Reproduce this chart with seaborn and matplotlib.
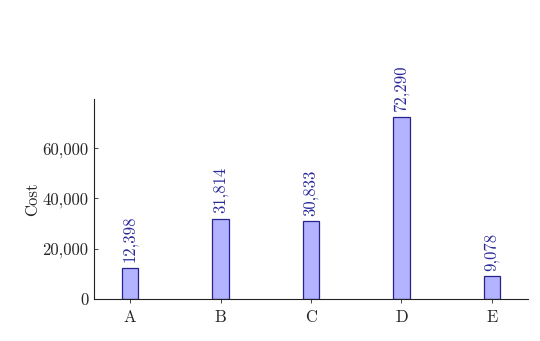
import matplotlib
matplotlib.use("Agg")
import matplotlib.pyplot as plt
import seaborn as sns
import pandas as pd

categories = ["A", "B", "C", "D", "E"]
costs = [12398, 31814, 30833, 72290, 9078]
yticks = [0, 20000, 40000, 60000]
ytick_labels = ["0", "20,000", "40,000", "60,000"]

sns.set_style("ticks")
plt.rcParams["font.family"] = ["cmr10", "DejaVu Serif"]
plt.rcParams["axes.formatter.use_mathtext"] = True
plt.rcParams["mathtext.fontset"] = "cm"

df = pd.DataFrame({"cat": categories, "cost": costs})

fig = plt.figure(figsize=(5.4, 3.41), dpi=100)
ax = fig.add_axes([94/540, 1 - 299/341, (528-94)/540, (299-99)/341])

sns.barplot(data=df, x="cat", y="cost", ax=ax, width=0.18,
            color="#b3b3ff", saturation=1, edgecolor="#24248f", linewidth=0.9)

for i, v in enumerate(costs):
    ax.annotate(f"{v:,}", (i, v), xytext=(0, 4), textcoords="offset points",
                rotation=90, ha="center", va="bottom", color="#2a2a9a", fontsize=12)

ax.set_xlim(-0.4, 4.4)
ax.set_ylim(0, 79500)
ax.set_yticks(yticks)
ax.set_yticklabels(ytick_labels)
ax.set_xlabel("")
ax.set_ylabel("Cost", fontsize=12)
ax.yaxis.set_label_coords(-0.125, 0.5)
ax.tick_params(axis="y", direction="in", length=3, width=0.6, labelsize=12, pad=4)
ax.tick_params(axis="x", direction="out", length=3, width=0.6, labelsize=12, pad=5)
for s in ["top", "right"]:
    ax.spines[s].set_visible(False)
for s in ["left", "bottom"]:
    ax.spines[s].set_linewidth(0.8)
    ax.spines[s].set_color("#222222")

fig.savefig("out.png", dpi=100)
